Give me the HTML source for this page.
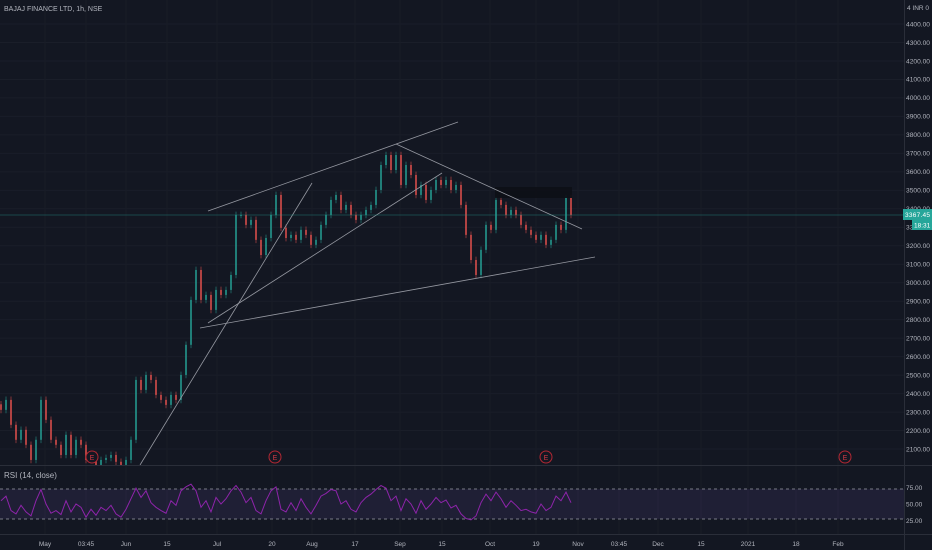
<!DOCTYPE html>
<html><head><meta charset="utf-8"><style>
html,body{margin:0;padding:0;background:#131722;}
svg{display:block;font-family:"Liberation Sans",sans-serif;}
</style></head><body>
<svg id="c" width="932" height="550">
<rect width="932" height="550" fill="#131722"/>
<g id="grid"></g>
<g id="candles"></g>
<g id="draw">
 <rect x="495" y="187" width="77" height="11" fill="#0d0f16" opacity="0.9"/>
 <line x1="208" y1="211" x2="458" y2="122" stroke="#9598a1" stroke-width="0.8"/>
 <line x1="140" y1="465" x2="312" y2="183" stroke="#9598a1" stroke-width="0.8"/>
 <line x1="208" y1="323" x2="442" y2="173" stroke="#9598a1" stroke-width="0.8"/>
 <line x1="200" y1="328" x2="595" y2="257" stroke="#9598a1" stroke-width="0.8"/>
 <line x1="396" y1="144" x2="582" y2="229" stroke="#9598a1" stroke-width="0.8"/>
</g>
<line x1="0" y1="215" x2="904" y2="215" stroke="#26a69a" stroke-opacity="0.45" stroke-width="0.8"/>
<g id="earn"></g>
<line x1="0" y1="465.5" x2="932" y2="465.5" stroke="#2a2e39"/>
<text x="4" y="478" fill="#b2b5be" font-size="8">RSI (14, close)</text>
<rect x="0" y="489" width="904" height="30" fill="#7e57c2" fill-opacity="0.12"/>
<line x1="0" y1="489" x2="904" y2="489" stroke="#787b86" stroke-dasharray="3,3"/>
<line x1="0" y1="519" x2="904" y2="519" stroke="#787b86" stroke-dasharray="3,3"/>
<path id="rsi" fill="none" stroke="#8e24aa" stroke-width="1"/>
<line x1="0" y1="534.5" x2="932" y2="534.5" stroke="#2a2e39"/>
<line x1="904.5" y1="0" x2="904.5" y2="550" stroke="#2a2e39"/>
<g id="axis" font-size="6.5" fill="#b2b5be"></g>
<text x="4" y="11" fill="#b2b5be" font-size="7">BAJAJ FINANCE LTD, 1h, NSE</text>
<text x="907" y="10" fill="#b2b5be" font-size="6.5">4 INR 0</text>
<rect x="903" y="209" width="29" height="11" fill="#26a69a"/>
<text x="905" y="217" fill="#fff" font-size="6.5" textLength="25">3367.45</text>
<rect x="912" y="220" width="20" height="10" fill="#26a69a"/>
<text x="914" y="227.5" fill="#fff" font-size="6.5">18:31</text>
</svg>
<script>
const closes=[2312,2366,2231,2150,2204,2123,2041,2150,2366,2258,2150,2123,2068,2177,2068,2150,2123,2041,2068,2014,2041,2052,2068,2031,2014,2041,2150,2474,2420,2501,2474,2393,2366,2339,2393,2366,2501,2664,2907,3069,2907,2934,2853,2961,2934,2961,3042,3367,3367,3313,3340,3232,3150,3242,3367,3475,3297,3242,3259,3232,3286,3259,3205,3232,3313,3367,3448,3475,3394,3421,3367,3340,3367,3394,3421,3502,3637,3691,3610,3691,3529,3637,3583,3475,3529,3448,3502,3556,3529,3556,3502,3529,3421,3259,3123,3042,3178,3313,3286,3448,3421,3367,3394,3367,3313,3286,3259,3232,3259,3205,3232,3313,3286,3459,3367];
const rsiVals=[55,62,40,35,48,38,32,55,72,50,36,40,34,55,38,50,45,30,42,33,45,40,48,35,30,42,58,74,60,70,52,45,40,36,55,48,70,76,80,70,45,55,38,60,50,58,70,78,68,52,60,40,35,55,70,76,42,38,52,40,58,45,35,48,62,66,72,70,50,55,42,38,52,60,65,72,78,74,55,62,40,58,50,36,55,42,50,60,52,56,44,48,35,28,26,32,52,65,55,68,58,45,55,48,40,42,38,36,50,40,45,62,55,68,52];
const priceTicks=[4400,4300,4200,4100,4000,3900,3800,3700,3600,3500,3400,3300,3200,3100,3000,2900,2800,2700,2600,2500,2400,2300,2200,2100];
const rsiTicks=[75,50,25];
const timeLabels=["May","03:45","Jun","15","Jul","20","Aug","17","Sep","15","Oct","19","Nov","03:45","Dec","15","2021","18","Feb"];
const timeX=[45,86,126,167,217,272,312,355,400,442,490,536,578,619,658,701,748,796,838];
const earnX=[92,275,546,845];
const NS='http://www.w3.org/2000/svg';
const py=p=>24+(4400-p)*0.1848;
const ry=v=>504-(v-50)*0.66;
const cx=i=>1+i*5;
function mk(t,a,parent){const e=document.createElementNS(NS,t);for(const k in a)e.setAttribute(k,a[k]);parent.appendChild(e);return e;}
const grid=document.getElementById('grid'),axis=document.getElementById('axis');
priceTicks.forEach(p=>{
 const l=mk('line',{x1:0,x2:904,y1:py(p),y2:py(p),stroke:'#1a1e29'},grid);
 
 
 const t=mk('text',{x:906,y:py(p)+2.3,textLength:24,lengthAdjust:'spacingAndGlyphs'},axis);t.textContent=p.toFixed(2);
 
 
});
rsiTicks.forEach(v=>{
 const t=mk('text',{x:906,y:ry(v)+2.3},axis);t.textContent=v.toFixed(2);
 
 
});
timeX.forEach((x,i)=>{
 const l=mk('line',{x1:x,x2:x,y1:0,y2:534,stroke:'#181c27'},grid);
 
 
 const t=mk('text',{x:x,y:546,'text-anchor':'middle'},axis);t.textContent=timeLabels[i];
 
 
});
const cg=document.getElementById('candles');
closes.forEach((c,i)=>{
 const o=i?closes[i-1]:c+30;const up=c>=o;const col=up?'#26a69a':'#ef5350';
 const hi=Math.max(o,c)+18,lo=Math.min(o,c)-18;
 const w=mk('line',{x1:cx(i),x2:cx(i),y1:py(hi),y2:Math.min(py(lo),465),stroke:col,'stroke-width':0.6,opacity:0.85},cg);
 
 
 const y1=py(Math.max(o,c)),y2=py(Math.min(o,c));
 const b=mk('rect',{x:cx(i)-0.8,y:y1,width:1.6,height:Math.max(1,Math.min(y2,465)-y1),fill:col,opacity:0.85},cg);
 
 
});
let d='';rsiVals.forEach((v,i)=>{d+=(i?'L':'M')+cx(i)+','+ry(v);});
document.getElementById('rsi').setAttribute('d',d);
const eg=document.getElementById('earn');
earnX.forEach(x=>{
 const c=mk('circle',{cx:x,cy:457,r:6,fill:'#131722',stroke:'#b22833','stroke-width':1},eg);
 
 
 const t=mk('text',{x:x,y:460,'text-anchor':'middle',fill:'#d03a45','font-size':7},eg);t.textContent='E';
 
 
});
</script>
</body></html>
